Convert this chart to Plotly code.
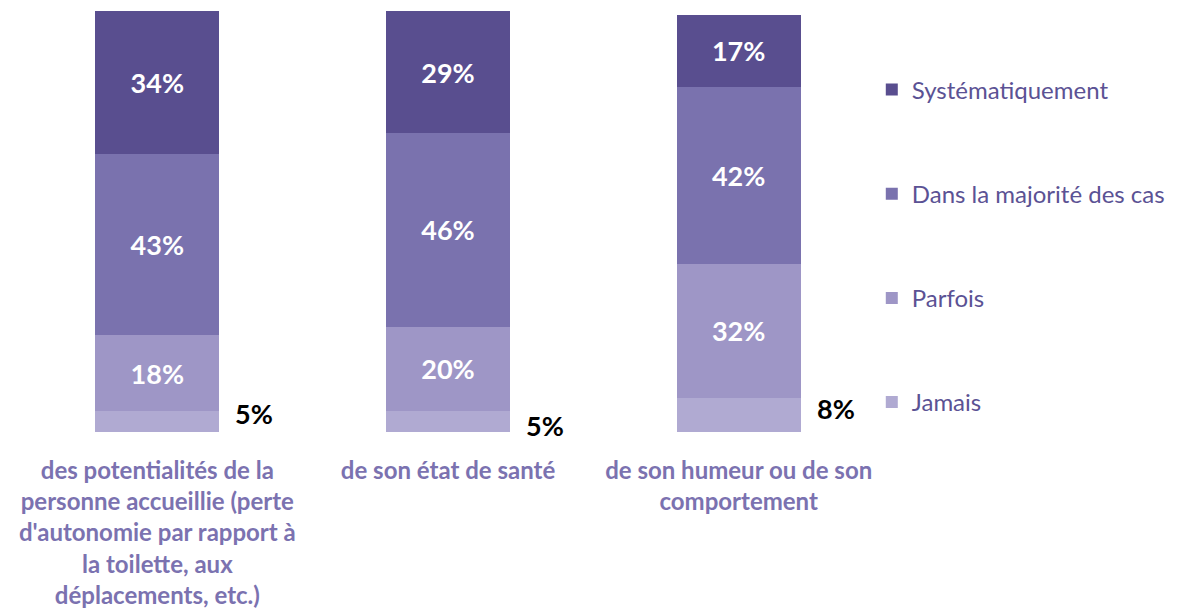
import plotly.graph_objects as go

categories = [
    "des potentialités de la<br>personne accueillie (perte<br>d'autonomie par rapport à<br>la toilette, aux<br>déplacements, etc.)",
    "de son état de santé",
    "de son humeur ou de son<br>comportement",
]
series_names = ["Jamais", "Parfois", "Dans la majorité des cas", "Systématiquement"]
values = {
    "Jamais": [5, 5, 8],
    "Parfois": [18, 20, 32],
    "Dans la majorité des cas": [43, 46, 42],
    "Systématiquement": [34, 29, 17],
}

colors = {
    "Jamais": "#B0AAD2",
    "Parfois": "#9E96C6",
    "Dans la majorité des cas": "#7A72AE",
    "Systématiquement": "#594E8F",
}

FONT = "Lato"

fig = go.Figure()
for i, name in enumerate(series_names):
    inside = name != "Jamais"
    fig.add_trace(go.Bar(
        x=categories,
        y=values[name],
        name=name,
        legendgroup=name,
        legendrank=100 - i,  # top of stack first in legend
        marker=dict(color=colors[name], line=dict(width=0)),
        text=[f"{v}%" for v in values[name]] if inside else None,
        textposition="inside" if inside else "none",
        insidetextanchor="middle",
        textangle=0,
        textfont=dict(family=FONT, size=27, color="white", weight="bold"),
        width=0.426,
    ))

# "Jamais" labels sit outside, to the right of each bar
label_yshift = [8, -4, 7]
for i, cat in enumerate(categories):
    v = values["Jamais"][i]
    fig.add_annotation(
        x=cat, y=v / 2, text=f"<b>{v}%</b>", showarrow=False,
        xshift=97, yshift=label_yshift[i],
        font=dict(family=FONT, size=27, color="black"),
    )

fig.update_layout(
    barmode="stack",
    width=1179,
    height=615,
    margin=dict(l=3.5, r=302.5, t=3, b=191),
    plot_bgcolor="white",
    paper_bgcolor="white",
    font=dict(family=FONT),
    xaxis=dict(
        range=[-0.5, 2.5],
        showgrid=False, showline=False, zeroline=False,
        tickfont=dict(family=FONT, size=24, color="#7B72B0", weight="bold"),
        ticklabelstandoff=22,
    ),
    yaxis=dict(range=[0, 100], visible=False),
    legend=dict(
        x=0.986, xanchor="left",
        y=0.866, yanchor="top",
        traceorder="grouped",
        tracegroupgap=70,
        font=dict(family=FONT, size=24, color="#5B5294"),
        bgcolor="rgba(0,0,0,0)",
    ),
)

fig.write_html("out.html")
